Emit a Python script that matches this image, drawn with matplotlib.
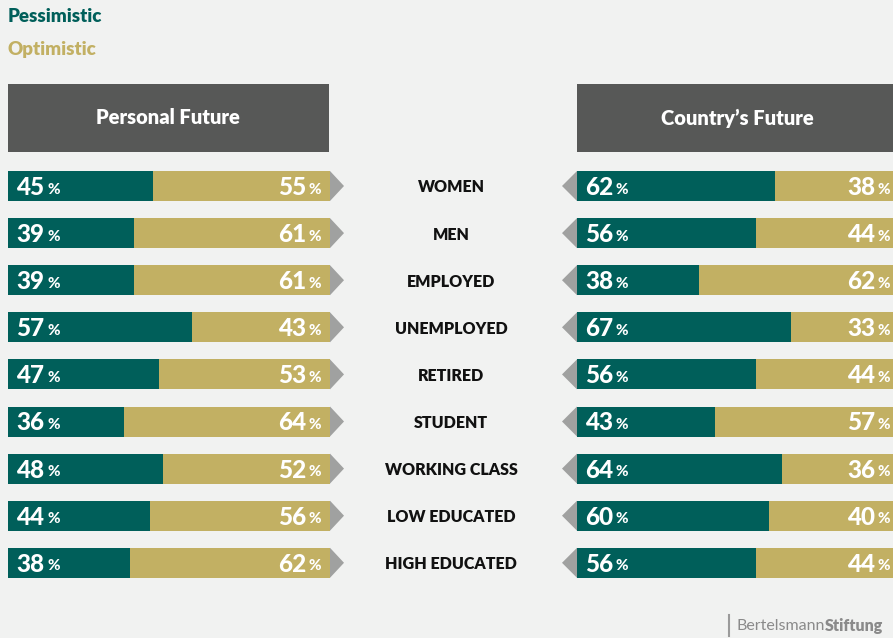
import matplotlib.pyplot as plt
from matplotlib.patches import Rectangle, Polygon

plt.rcParams['font.family'] = ['Lato', 'DejaVu Sans']

groups = ["WOMEN", "MEN", "EMPLOYED", "UNEMPLOYED", "RETIRED", "STUDENT",
          "WORKING CLASS", "LOW EDUCATED", "HIGH EDUCATED"]
personal_pess = [45, 39, 39, 57, 47, 36, 48, 44, 38]
personal_opt = [55, 61, 61, 43, 53, 64, 52, 56, 62]
country_pess = [62, 56, 38, 67, 56, 43, 64, 60, 56]
country_opt = [38, 44, 62, 33, 44, 57, 36, 40, 44]

teal = "#005f5a"
gold = "#c2b063"
grey_box = "#575857"
bg = "#f1f2f1"
arrow = "#a0a1a0"

fig = plt.figure(figsize=(8.93, 6.38), dpi=100, facecolor=bg)
ax = fig.add_axes([0, 0, 1, 1])
ax.set_xlim(0, 893)
ax.set_ylim(638, 0)
ax.axis("off")
ax.set_facecolor(bg)

# legend
ax.text(8, 17, "Pessimistic", color=teal, fontsize=13.5, fontweight=800, va="center")
ax.text(8, 49, "Optimistic", color=gold, fontsize=13.5, fontweight=800, va="center")

# panel headers
ax.add_patch(Rectangle((8, 84), 321, 68, color=grey_box, lw=0))
ax.add_patch(Rectangle((577, 84), 320, 68, color=grey_box, lw=0))
ax.text(168, 118, "Personal Future", color="white", fontsize=14.5, fontweight=800,
        ha="center", va="center")
ax.text(737, 118, "Country\u2019s Future", color="white", fontsize=14.5, fontweight=800,
        ha="center", va="center")

y0, step, h = 186, 47.1, 30
ys = [y0 + i * step for i in range(len(groups))]

L0, LW = 8, 322
R0, RW = 577, 320
sc_l = LW / 100
sc_r = RW / 100

ax.barh(ys, [v * sc_l for v in personal_pess], left=L0, height=h, color=teal, lw=0)
ax.barh(ys, [v * sc_l for v in personal_opt], left=[L0 + v * sc_l for v in personal_pess],
        height=h, color=gold, lw=0)
ax.barh(ys, [v * sc_r for v in country_pess], left=R0, height=h, color=teal, lw=0)
ax.barh(ys, [v * sc_r for v in country_opt], left=[R0 + v * sc_r for v in country_pess],
        height=h, color=gold, lw=0)


def pct(x, y, val, align):
    # big bold number with a smaller percent sign after it
    if align == "left":
        ax.text(x, y + 1.5, str(val), color="white", fontsize=17.5, fontweight=900,
                ha="left", va="center")
        ax.text(x + 31, y + 3.5, "%", color="white", fontsize=11, fontweight=900,
                ha="left", va="center")
    else:
        ax.text(x - 15, y + 1.5, str(val), color="white", fontsize=17.5, fontweight=900,
                ha="right", va="center")
        ax.text(x, y + 3.5, "%", color="white", fontsize=11, fontweight=900,
                ha="right", va="center")


for i, y in enumerate(ys):
    # arrow tips pointing to the middle labels
    ax.add_patch(Polygon([(L0 + LW, y - h / 2), (L0 + LW + 14, y), (L0 + LW, y + h / 2)],
                         color=arrow, lw=0))
    ax.add_patch(Polygon([(R0, y - h / 2), (R0 - 15, y), (R0, y + h / 2)],
                         color=arrow, lw=0))
    ax.text(451, y + 1.5, groups[i], color="#111111", fontsize=11.5, fontweight=800,
            ha="center", va="center")
    pct(L0 + 8, y, personal_pess[i], "left")
    pct(L0 + LW - 9, y, personal_opt[i], "right")
    pct(R0 + 8, y, country_pess[i], "left")
    pct(890, y, country_opt[i], "right")

# logo
ax.plot([729, 729], [615, 636], color="#9a9a9a", lw=1.5)
ax.text(737, 626, "Bertelsmann", color="#8a8a8a", fontsize=11.5, ha="left", va="center")
ax.text(825, 626, "Stiftung", color="#8a8a8a", fontsize=11.5, fontweight=800,
        ha="left", va="center")

fig.savefig("out.png", dpi=100, facecolor=bg)
